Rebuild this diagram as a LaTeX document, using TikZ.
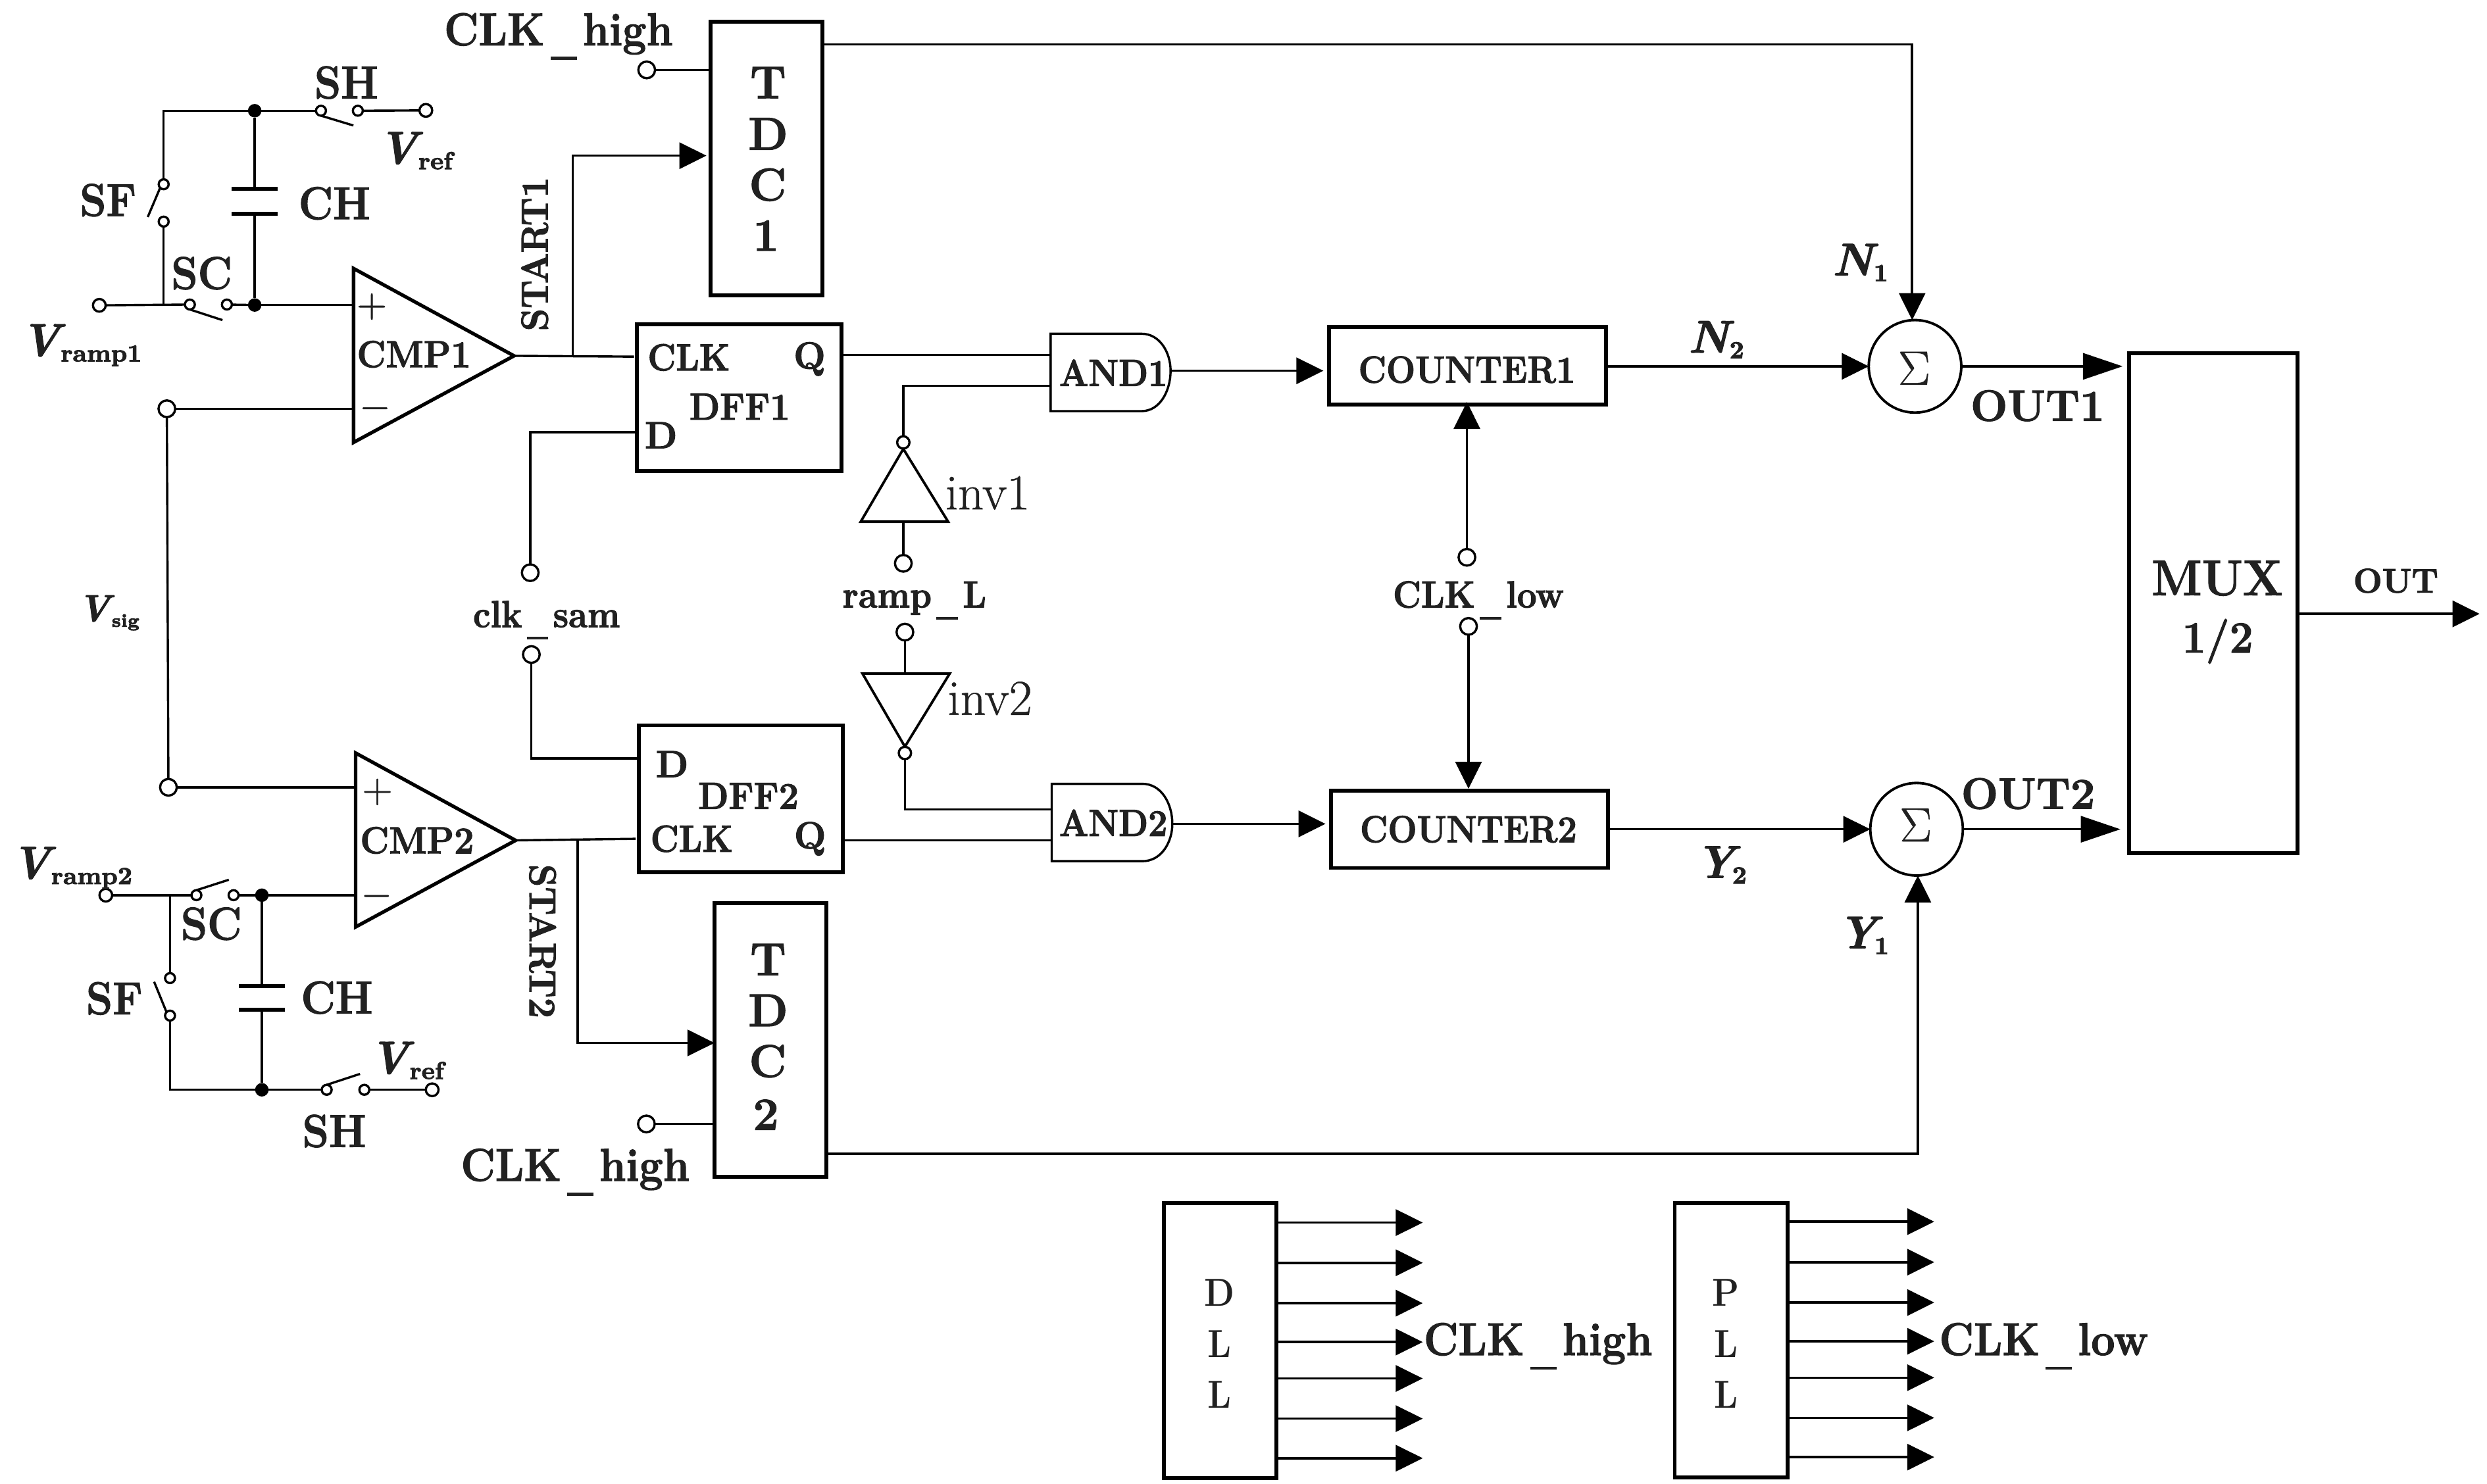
\documentclass[tikz,border=0pt]{standalone}
\usepackage{graphicx}
\usetikzlibrary{arrows.meta}
\newcommand\lblfont[1]{\fontsize{#1}{#1}\selectfont\bfseries}
\newcommand\regfont[1]{\fontsize{#1}{#1}\selectfont}
\newcommand\heavytext[2]{\special{pdf:code 2 Tr #1 w}#2\special{pdf:code 0 Tr}}
\newcommand\hs[2][.92]{\scalebox{#1}[1]{\heavytext{0.28}{#2}}}
\newcommand\us{\kern.14em\rule[-.32em]{.62em}{.07em}\kern.14em}
\newcommand\symsub[4]{\heavytext{0.22}{\textit{#1}\kern#4pt\raisebox{-2pt}{\lblfont{#3}#2}}}
\tikzset{
  wire/.style={line width=0.8pt},
  arrowwire/.style={line width=0.85pt,-{Triangle[length=.34cm,width=.33cm]}},
  longarrow/.style={line width=0.85pt,-{Triangle[length=.5cm,width=.33cm]}},
  heavy/.style={line width=1.4pt},
  blockbox/.style={draw,line width=1.4pt,rectangle,inner sep=0pt,outer sep=0pt},
  term/.style={draw,line width=0.8pt,circle,inner sep=0pt,outer sep=0pt,minimum size=.21cm,fill=white},
  smallterm/.style={draw,line width=0.8pt,circle,inner sep=0pt,outer sep=0pt,minimum size=.125cm,fill=white},
  dot/.style={fill,circle,inner sep=0pt,outer sep=0pt,minimum size=.17cm},
  sumnode/.style={draw,line width=0.9pt,circle,inner sep=0pt,outer sep=0pt,minimum size=1.165cm},
  biglabel/.style={font=\lblfont{16.5},inner sep=0pt,text=black!87},
  midlabel/.style={font=\lblfont{13.5},inner sep=0pt,text=black!87},
  smalllabel/.style={font=\lblfont{14},inner sep=0pt,text=black!87},
  plainlabel/.style={font=\regfont{18},inner sep=0pt,text=black!87},
}
\begin{document}
\begin{tikzpicture}[x=0.02cm,y=-0.02cm]
\useasboundingbox (0,0) rectangle (1565.2,934.1);

% ---- blocks
\node[blockbox,minimum width=1.41cm,minimum height=3.44cm] (tdc1) at (482.5,99.8) {};
\node[blockbox,minimum width=1.41cm,minimum height=3.45cm] (tdc2) at (484.9,654.7) {};
\node[blockbox,minimum width=2.57cm,minimum height=1.85cm] (dff1) at (465.2,250.25) {};
\node[blockbox,minimum width=2.57cm,minimum height=1.85cm] (dff2) at (466.35,502.75) {};
\node[blockbox,minimum width=3.49cm,minimum height=.98cm] (cnt1) at (923.65,230.3) {};
\node[blockbox,minimum width=3.49cm,minimum height=.975cm] (cnt2) at (924.85,522) {};
\node[blockbox,minimum width=2.12cm,minimum height=6.29cm] (mux) at (1392.85,379.75) {};
\node[blockbox,minimum width=1.42cm,minimum height=3.46cm] (dll) at (767.8,844) {};
\node[blockbox,minimum width=1.42cm,minimum height=3.46cm] (pll) at (1089.5,843.7) {};
\node[sumnode] (sig1) at (1205.2,230.6) {};
\node[sumnode] (sig2) at (1206.2,522) {};

% ---- block texts
\node[biglabel] (t1a) at (483.4,52) {\hs[1]{T}};
\node[biglabel] (t1b) at (483.4,84.3) {\hs[1]{D}};
\node[biglabel] (t1c) at (483.2,116.3) {\hs[1]{C}};
\node[biglabel] (t1d) at (482,148.3) {\hs[1]{1}};
\node[biglabel] (t2a) at (483.4,604) {\hs[1]{T}};
\node[biglabel] (t2b) at (483.4,636) {\hs[1]{D}};
\node[biglabel] (t2c) at (483.2,668) {\hs[1]{C}};
\node[biglabel] (t2d) at (482,701.7) {\hs[1]{2}};
\node[midlabel] (d1clk) at (433.5,225) {\hs{CLK}};
\node[midlabel] (d1q) at (509.5,226) {\hs[1]{Q}};
\node[midlabel] (d1name) at (465.5,256) {\hs[.94]{DFF1}};
\node[midlabel] (d1d) at (416,274) {\hs[1]{D}};
\node[midlabel] (d2clk) at (435.3,528) {\hs{CLK}};
\node[midlabel] (d2q) at (509.8,528) {\hs[1]{Q}};
\node[midlabel] (d2name) at (471,501) {\hs[.94]{DFF2}};
\node[midlabel] (d2d) at (423,481) {\hs[1]{D}};
\node[midlabel] (c1txt) at (923.2,232.7) {\hs[.91]{COUNTER1}};
\node[midlabel] (c2txt) at (924.2,522) {\hs[.91]{COUNTER2}};
\node[font=\regfont{18},inner sep=0pt,text=black!87] (s1txt) at (1204.7,231.8) {\heavytext{0.12}{$\Sigma$}};
\node[font=\regfont{18},inner sep=0pt,text=black!87] (s2txt) at (1205.7,519.3) {\heavytext{0.12}{$\Sigma$}};
\node[font=\lblfont{18},inner sep=0pt,text=black!87] (mux1) at (1395.4,364) {\hs[.94]{MUX}};
\node[font=\lblfont{16},inner sep=0pt,text=black!87] (mux2) at (1395.7,403.7) {\hs[.94]{1/2}};
\node[smalllabel] (dl1) at (767.4,813.6) {\scalebox{.9}[1]{D}};
\node[smalllabel] (dl2) at (767.4,846) {\scalebox{.9}[1]{L}};
\node[smalllabel] (dl3) at (767.4,878) {\scalebox{.9}[1]{L}};
\node[smalllabel] (pl1) at (1086,813.6) {\scalebox{.9}[1]{P}};
\node[smalllabel] (pl2) at (1086.5,846) {\scalebox{.9}[1]{L}};
\node[smalllabel] (pl3) at (1086.5,878) {\scalebox{.9}[1]{L}};

% ---- comparators
\coordinate (cmp1a) at (222.5,169);
\coordinate (cmp1b) at (222.5,278.5);
\coordinate (cmp1o) at (323.5,224);
\draw[line width=1.25pt,line join=miter] (cmp1a) -- (cmp1o) -- (cmp1b) -- cycle;
\coordinate (cmp2a) at (223.8,474);
\coordinate (cmp2b) at (223.8,583.5);
\coordinate (cmp2o) at (324.5,529);
\draw[line width=1.25pt,line join=miter] (cmp2a) -- (cmp2o) -- (cmp2b) -- cycle;
\node[midlabel] (cmp1t) at (260.5,223) {\hs[.94]{CMP1}};
\node[midlabel] (cmp2t) at (262.5,529) {\hs[.94]{CMP2}};
\node[font=\regfont{14},inner sep=0pt,text=black!87] (p1) at (234,193) {\heavytext{0.12}{$+$}};
\node[font=\regfont{14},inner sep=0pt,text=black!87] (m1) at (236,257) {\heavytext{0.12}{$-$}};
\node[font=\regfont{14},inner sep=0pt,text=black!87] (p2) at (237.5,498.5) {\heavytext{0.12}{$+$}};
\node[font=\regfont{14},inner sep=0pt,text=black!87] (m2) at (237,564) {\heavytext{0.12}{$-$}};

% ---- top front-end
\coordinate (tl) at (103,69.7);
\node[dot] (j1) at (160.3,69.7) {};
\node[dot] (j2) at (160.3,192) {};
\node[smallterm] (sh1a) at (202,69.7) {};
\node[smallterm] (sh1b) at (225.2,69.7) {};
\coordinate (sh1f) at (222.4,79);
\node[term,minimum size=.16cm] (vref1) at (268,69.5) {};
\node[smallterm] (sf1a) at (103,116) {};
\node[smallterm] (sf1b) at (103,139.5) {};
\coordinate (sf1f) at (93,136.6);
\node[term,minimum size=.16cm] (vr1) at (62.5,192.2) {};
\coordinate (vr1j) at (103,192);
\node[smallterm] (sc1a) at (119.5,191.7) {};
\node[smallterm] (sc1b) at (142.8,191.7) {};
\coordinate (sc1f) at (140,201.5);
\coordinate (cp1a) at (160.3,119);
\coordinate (cp1b) at (160.3,134.6);
\draw[wire] (sf1a) -- (tl) -- (j1) -- (sh1a);
\draw[wire] (sh1a.south) -- (sh1f);
\draw[wire] (sh1b) -- (vref1);
\draw[wire] (sf1a.south west) -- (sf1f);
\draw[wire] (sf1b) -- (vr1j);
\draw[wire] (vr1) -- (sc1a);
\draw[wire] (sc1a.south) -- (sc1f);
\draw[wire] (sc1b) -- (j2);
\draw[wire] (j2) -- (j2 -| cmp1a);
\draw[wire] (j1) -- (cp1a);
\draw[wire] (cp1b) -- (j2);
\draw[heavy] ([xshift=-8.2pt]cp1a) -- ([xshift=8.2pt]cp1a);
\draw[heavy] ([xshift=-8.2pt]cp1b) -- ([xshift=8.2pt]cp1b);
\node[biglabel] (shl1) at (218,52) {\hs{SH}};
\node[biglabel] (sfl1) at (68,126) {\hs{SF}};
\node[biglabel] (chl1) at (210.5,128) {\hs{CH}};
\node[biglabel] (scl1) at (127,172) {\hs{SC}};
\node[biglabel,anchor=base west] (vrefl1) at (237.5,103) {\symsub{V}{ref}{8.8}{-1.7}};
\node[biglabel,anchor=base west] (vramp1) at (12.5,224) {\symsub{V}{ramp1}{8.8}{-1.7}};

% ---- Vsig
\node[term] (sigt) at (105,257.3) {};
\node[term] (sigb) at (106,495.6) {};
\draw[wire] (sigt) -- (sigt -| cmp1a);
\draw[wire] (sigb) -- (sigb -| cmp2a);
\draw[wire] (sigt) -- (sigb);
\node[midlabel,anchor=base west] (vsigl) at (48.5,391) {\symsub{V}{sig}{6.5}{-1}};

% ---- bottom front-end
\node[term,minimum size=.16cm] (vr2) at (66.6,563.5) {};
\coordinate (vr2j) at (107,563.5);
\node[smallterm] (sc2a) at (123.6,563.5) {};
\node[smallterm] (sc2b) at (147,563.5) {};
\coordinate (sc2f) at (144,553.8);
\node[dot] (j3) at (164.8,563.5) {};
\node[dot] (j4) at (164.8,686) {};
\node[smallterm] (sf2a) at (107,615.7) {};
\node[smallterm] (sf2b) at (107,639.3) {};
\coordinate (sf2f) at (97,618);
\coordinate (bl) at (107,686);
\node[smallterm] (sh2a) at (205.6,686) {};
\node[smallterm] (sh2b) at (229.3,686) {};
\coordinate (sh2f) at (226.6,676);
\node[term,minimum size=.16cm] (vref2) at (272,686) {};
\coordinate (cp2a) at (164.8,620.7);
\coordinate (cp2b) at (164.8,635.7);
\draw[wire] (vr2) -- (sc2a);
\draw[wire] (sc2a.north) -- (sc2f);
\draw[wire] (sc2b) -- (j3);
\draw[wire] (j3) -- (j3 -| cmp2a);
\draw[wire] (vr2j) -- (sf2a);
\draw[wire] (sf2b.north west) -- (sf2f);
\draw[wire] (sf2b) -- (bl) -- (j4) -- (sh2a);
\draw[wire] (sh2a.north) -- (sh2f);
\draw[wire] (sh2b) -- (vref2);
\draw[wire] (j3) -- (cp2a);
\draw[wire] (cp2b) -- (j4);
\draw[heavy] ([xshift=-8.2pt]cp2a) -- ([xshift=8.2pt]cp2a);
\draw[heavy] ([xshift=-8.2pt]cp2b) -- ([xshift=8.2pt]cp2b);
\node[biglabel] (shl2) at (210.4,712) {\hs{SH}};
\node[biglabel] (sfl2) at (72,628.5) {\hs{SF}};
\node[biglabel] (chl2) at (212,628) {\hs{CH}};
\node[biglabel] (scl2) at (133,581.5) {\hs{SC}};
\node[biglabel,anchor=base west] (vrefl2) at (232,675.7) {\symsub{V}{ref}{8.8}{-1.7}};
\node[biglabel,anchor=base west] (vramp2) at (6.5,553) {\symsub{V}{ramp2}{8.8}{-1.7}};

% ---- clk_sam
\node[term] (cs1) at (333.7,360.5) {};
\node[term] (cs2) at (334.4,412) {};
\coordinate (cs1c) at (333.7,272);
\coordinate (cs2c) at (334.4,477.5);
\draw[wire] (cs1) -- (cs1c) -- (cs1c -| dff1.west);
\draw[wire] (cs2) -- (cs2c) -- (cs2c -| dff2.west);
\node[midlabel,anchor=base] (csl) at (344,394.8) {\hs{clk\us sam}};

% ---- comparator outputs and TDC inputs
\coordinate (cmp1c) at (399,224.5);
\coordinate (cmp2c) at (400,528);
\coordinate (st1j) at (360.5,224.3);
\coordinate (st1c) at (360.5,98);
\coordinate (st1t) at (444.6,98);
\coordinate (st2j) at (363.5,528.5);
\coordinate (st2c) at (363.5,656.5);
\draw[wire] (cmp1o) -- (cmp1c);
\draw[wire] (cmp2o) -- (cmp2c);
\draw[arrowwire] (st1j) -- (st1c) -- (st1t);
\draw[arrowwire] (st2j) -- (st2c) -- (st2c -| tdc2.west);
\node[midlabel,rotate=90] (st1l) at (336.5,160) {\hs[.96]{START1}};
\node[midlabel,rotate=-90] (st2l) at (341.5,592.5) {\hs[.96]{START2}};
\node[term] (ch1) at (407,44) {};
\node[term] (ch2) at (406.8,707.5) {};
\draw[wire] (ch1) -- (ch1 -| tdc1.west);
\draw[wire] (ch2) -- (ch2 -| tdc2.west);
\node[biglabel,anchor=base] (chl1t) at (351.5,28.5) {\hs{CLK\us high}};
\node[biglabel,anchor=base] (chl2t) at (362,743.3) {\hs{CLK\us high}};

% ---- AND gates
\coordinate (and1a) at (661.2,210.1);
\coordinate (and1b) at (661.2,258.8);
\coordinate (and1o) at (736.7,233.4);
\draw[wire] (and1a) -- (718.5,210.1) .. controls (730,210.1) and (736.7,222) .. (and1o) .. controls (736.7,246) and (730,258.8) .. (718.5,258.8) -- (and1b) -- cycle;
\coordinate (and2a) at (661.9,493.4);
\coordinate (and2b) at (661.9,542.1);
\coordinate (and2o) at (737.8,518.6);
\draw[wire] (and2a) -- (719,493.4) .. controls (731,493.4) and (737.8,506) .. (and2o) .. controls (737.8,530) and (731,542.1) .. (719,542.1) -- (and2b) -- cycle;
\node[midlabel] (and1t) at (700.7,234.6) {\hs[.91]{AND1}};
\node[midlabel] (and2t) at (700.7,517.9) {\hs[.91]{AND2}};
\coordinate (and1i1) at (661.2,223.4);
\coordinate (and1i2) at (661.2,242.9);
\coordinate (and2i1) at (661.9,509.6);
\coordinate (and2i2) at (661.9,529);
\draw[wire] (dff1.east |- and1i1) -- (and1i1);
\draw[wire] (dff2.east |- and2i2) -- (and2i2);

% ---- inverters
\coordinate (inv1a) at (568.5,282.6);
\coordinate (inv1l) at (541.7,328.4);
\coordinate (inv1r) at (596.7,328.4);
\draw[line width=.9pt] (inv1a) -- (inv1l) -- (inv1r) -- cycle;
\coordinate (inv2a) at (569.5,470);
\coordinate (inv2l) at (542.8,424);
\coordinate (inv2r) at (597.7,424);
\draw[line width=.9pt] (inv2a) -- (inv2l) -- (inv2r) -- cycle;
\node[smallterm,minimum size=.155cm] (i1o) at (568.5,278.5) {};
\node[smallterm,minimum size=.155cm] (i2o) at (569.5,474) {};
\node[term] (rl1) at (568.5,354.6) {};
\node[term] (rl2) at (569.5,397.9) {};
\coordinate (i1c) at (568.5,242.9);
\coordinate (i2c) at (569.5,509.6);
\draw[wire] (i1o) -- (i1c) -- (and1i2);
\draw[wire] (i2o) -- (i2c) -- (and2i1);
\draw[wire] (rl1) -- (rl1 |- inv1l);
\draw[wire] (rl2) -- (rl2 |- inv2l);
\node[plainlabel,anchor=base] (inv1t) at (621.6,320.6) {\heavytext{0.12}{inv1}};
\node[plainlabel,anchor=base] (inv2t) at (623,450) {\heavytext{0.12}{inv2}};
\node[midlabel,anchor=base] (rll) at (575.5,382.4) {\hs{ramp\us L}};

% ---- counters and sums
\coordinate (a1t) at (832.9,233.4);
\coordinate (a2t) at (834.2,518.6);
\draw[arrowwire] (and1o) -- (a1t);
\draw[arrowwire] (and2o) -- (a2t);
\draw[arrowwire] (cnt1.east |- sig1) -- (sig1.west);
\draw[arrowwire] (cnt2.east |- sig2) -- (sig2.west);
\node[term] (cl1) at (923.2,350.8) {};
\node[term] (cl2) at (924.2,394.3) {};
\coordinate (clt1) at (923.2,253);
\coordinate (clt2) at (924.2,496.5);
\draw[arrowwire] (cl1) -- (clt1);
\draw[arrowwire] (cl2) -- (clt2);
\node[midlabel,anchor=base] (cll) at (930.4,382.4) {\hs{CLK\us low}};
\coordinate (t1r) at (1203.4,27.9);
\coordinate (t2r) at (1207,726.4);
\draw[arrowwire] (tdc1.east |- t1r) -- (t1r) -- (sig1.north -| t1r);
\draw[arrowwire] (tdc2.east |- t2r) -- (t2r) -- (sig2.south -| t2r);
\coordinate (o1t) at (1335.9,230.6);
\coordinate (o2t) at (1334.5,522);
\draw[longarrow] (sig1.east) -- (o1t);
\draw[longarrow] (sig2.east) -- (o2t);
\coordinate (outtip) at (1560.5,386.4);
\draw[arrowwire] (mux.east |- outtip) -- (outtip);
\node[font=\lblfont{12.2},inner sep=0pt,text=black!87] (outl) at (1507.8,365.6) {\hs[1]{OUT}};
\node[font=\lblfont{15.7},inner sep=0pt,text=black!87] (o1l) at (1282.3,255.4) {\hs[1]{OUT1}};
\node[font=\lblfont{15.7},inner sep=0pt,text=black!87] (o2l) at (1276.4,499.6) {\hs[1]{OUT2}};
\node[biglabel,anchor=base west] (n1l) at (1152.7,173.4) {\symsub{N}{1}{8.8}{-1.7}};
\node[biglabel,anchor=base west] (n2l) at (1062,222) {\symsub{N}{2}{8.8}{-1.7}};
\node[biglabel,anchor=base west] (y1l) at (1156,597) {\symsub{Y}{1}{8.8}{-3}};
\node[biglabel,anchor=base west] (y2l) at (1066.5,552.6) {\symsub{Y}{2}{8.8}{-3}};

% ---- DLL / PLL outputs
\foreach \i/\y in {1/769.6,2/794.9,3/820.3,4/844.8,5/867.7,6/893,7/917.9}{
  \coordinate (dt\i) at (895.4,\y);
  \draw[arrowwire] (dll.east |- dt\i) -- (dt\i);
}
\foreach \i/\y in {1/769,2/794.5,3/819.9,4/844.3,5/867.2,6/892.5,7/917.2}{
  \coordinate (pt\i) at (1217.3,\y);
  \draw[arrowwire] (pll.east |- pt\i) -- (pt\i);
}
\node[biglabel,anchor=base] (dllt) at (968,853) {\hs{CLK\us high}};
\node[biglabel,anchor=base] (pllt) at (1286.2,853) {\hs{CLK\us low}};
\end{tikzpicture}
\end{document}
